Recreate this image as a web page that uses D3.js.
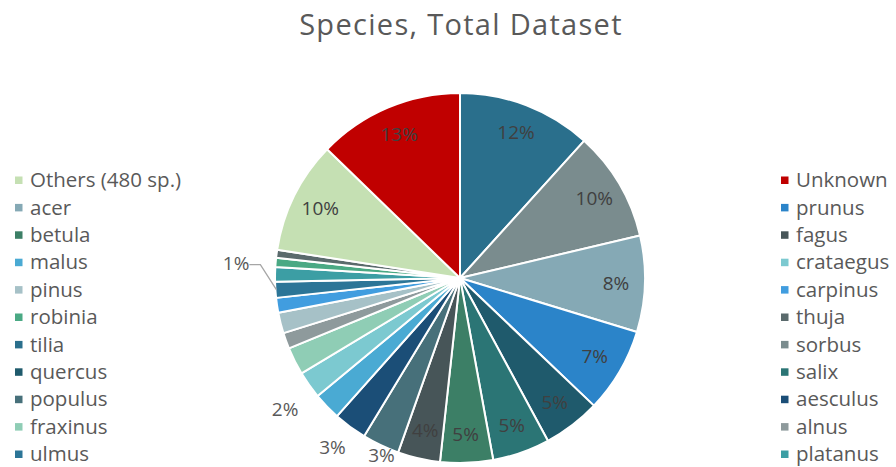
<!DOCTYPE html>
<html>
<head>
<meta charset="utf-8">
<script src="https://cdn.jsdelivr.net/npm/d3@7"></script>
<style>
  html, body { margin: 0; padding: 0; background: #fff; }
  svg { display: block; font-family: "Open Sans", Lato, sans-serif; }
</style>
</head>
<body>
<svg id="chart" width="896" height="467"></svg>
<script>
// Species shares (percent of all trees), in clockwise order from 12 o'clock
const species = ["tilia", "sorbus", "acer", "prunus", "quercus", "salix", "betula", "fagus",
  "populus", "aesculus", "malus", "crataegus", "fraxinus", "alnus", "pinus", "carpinus",
  "ulmus", "platanus", "robinia", "thuja", "Others (480 sp.)", "Unknown"];
const shares = [11.7, 9.6, 8.4, 7.4, 5.0, 5.0, 4.6, 3.7,
  3.25, 2.9, 2.4, 2.4, 2.4, 1.4, 1.8, 1.3,
  1.4, 1.25, 0.8, 0.7, 9.8, 12.75];
const colors = ["#2a6f8c", "#7a8c8e", "#85a9b5", "#2b84c9", "#1f5a6c", "#2b7575", "#3c7f66", "#475558",
  "#47707a", "#1b4e77", "#4aaad3", "#7cc9d0", "#8fcdb5", "#8e9a9c", "#a6c1c7", "#419ddf",
  "#2c7597", "#3c9ea4", "#4aa984", "#5a6a6c", "#c5e0b3", "#c00000"];

// Legend columns
const legendLeft = ["Others (480 sp.)", "acer", "betula", "malus", "pinus", "robinia",
  "tilia", "quercus", "populus", "fraxinus", "ulmus"];
const legendRight = ["Unknown", "prunus", "fagus", "crataegus", "carpinus", "thuja",
  "sorbus", "salix", "aesculus", "alnus", "platanus"];

// Which slices get a percentage label, and where it sits
const insideLabels = ["tilia", "sorbus", "acer", "prunus", "quercus", "salix", "betula", "fagus",
  "Others (480 sp.)", "Unknown"];
const outsideLabels = [
  { name: "populus", radius: 194, turn: -1.5 },
  { name: "aesculus", radius: 212, turn: 0.5 },
  { name: "malus", radius: 219, turn: 7 }
];
const leaderLabel = "ulmus";

const data = species.map((s, i) => ({ name: s, value: shares[i], color: colors[i] }));
const colorOf = new Map(data.map(d => [d.name, d.color]));
const total = d3.sum(shares);
const pctText = v => Math.round(v / total * 100) + "%";

const svg = d3.select("#chart");
const cx = 460, cy = 278, R = 185;

// Title
svg.append("text")
  .attr("x", 461).attr("y", 35)
  .attr("text-anchor", "middle")
  .attr("fill", "#595959")
  .style("font-size", "29px")
  .style("letter-spacing", "1.3px")
  .text("Species, Total Dataset");

// Pie
const pie = d3.pie().value(d => d.value).sort(null);
const arcs = pie(data);
const arc = d3.arc().innerRadius(0).outerRadius(R);

const g = svg.append("g").attr("transform", `translate(${cx},${cy})`);
g.selectAll("path.slice")
  .data(arcs)
  .join("path")
  .attr("class", "slice")
  .attr("d", arc)
  .attr("fill", d => d.data.color)
  .attr("stroke", "#fff")
  .attr("stroke-width", 2)
  .attr("stroke-linejoin", "round");

const byName = new Map(arcs.map(a => [a.data.name, a]));
const polar = (ang, r) => [r * Math.sin(ang), -r * Math.cos(ang)];

// Labels inside the slices
g.selectAll("text.inlab")
  .data(insideLabels.map(n => byName.get(n)))
  .join("text")
  .attr("class", "inlab")
  .attr("transform", d => {
    const [x, y] = polar((d.startAngle + d.endAngle) / 2, 156);
    return `translate(${x},${y})`;
  })
  .attr("text-anchor", "middle")
  .attr("dy", "0.35em")
  .attr("fill", "#404040")
  .style("font-size", "19px")
  .text(d => pctText(d.data.value));

// Labels outside the small slices
g.selectAll("text.outlab")
  .data(outsideLabels)
  .join("text")
  .attr("class", "outlab")
  .attr("transform", o => {
    const a = byName.get(o.name);
    const ang = (a.startAngle + a.endAngle) / 2 + o.turn * Math.PI / 180;
    const [x, y] = polar(ang, o.radius);
    return `translate(${x},${y})`;
  })
  .attr("text-anchor", "middle")
  .attr("dy", "0.35em")
  .attr("fill", "#595959")
  .style("font-size", "19px")
  .text(o => pctText(byName.get(o.name).data.value));

// Label with leader line
{
  const a = byName.get(leaderLabel);
  const ang = (a.startAngle + a.endAngle) / 2;
  const [ex, ey] = polar(ang, R - 1);
  const kx = ex - 16, ky = ey - 25;
  g.append("path")
    .attr("d", `M${ex},${ey}L${kx},${ky}L${kx - 11},${ky}`)
    .attr("fill", "none")
    .attr("stroke", "#a6a6a6")
    .attr("stroke-width", 1.3);
  g.append("text")
    .attr("x", kx - 11).attr("y", ky)
    .attr("text-anchor", "end")
    .attr("dy", "0.3em")
    .attr("fill", "#595959")
    .style("font-size", "19px")
    .text(pctText(a.data.value));
}

// Legends
function legend(names, x0) {
  const y = d3.scalePoint().domain(names).range([180, 454]);
  const item = svg.append("g").selectAll("g")
    .data(names)
    .join("g")
    .attr("transform", d => `translate(${x0},${y(d)})`);
  item.append("rect")
    .attr("x", 0).attr("y", -3.5)
    .attr("width", 7.5).attr("height", 7.5)
    .attr("fill", d => colorOf.get(d));
  item.append("text")
    .attr("x", 15).attr("dy", "0.35em")
    .attr("fill", "#595959")
    .style("font-size", "20.5px")
    .text(d => d);
}
legend(legendLeft, 15);
legend(legendRight, 781);
</script>
</body>
</html>
